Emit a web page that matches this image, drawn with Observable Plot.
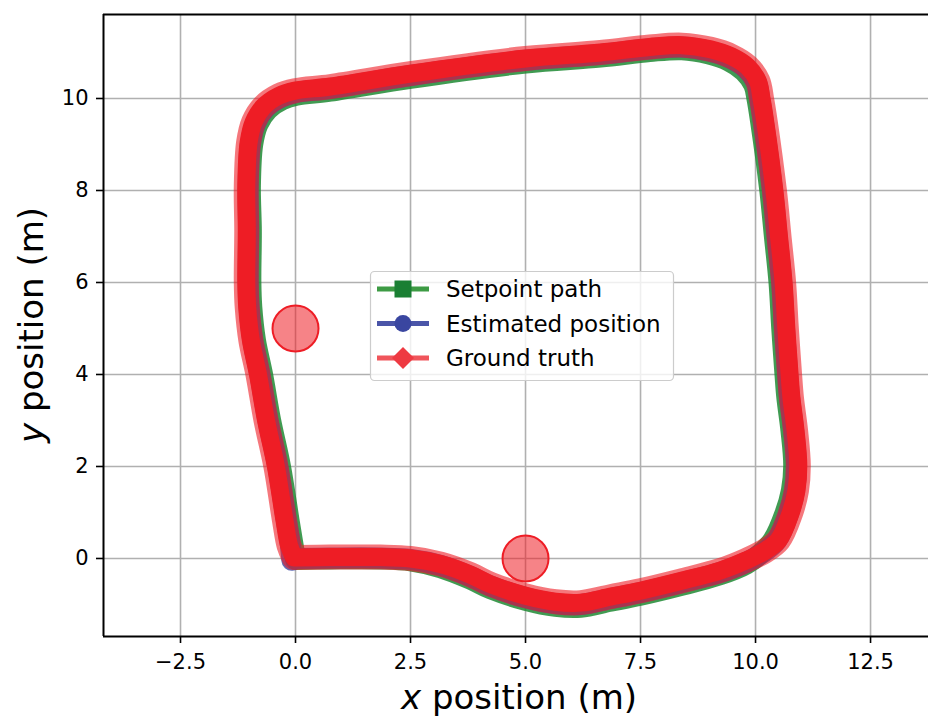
<!DOCTYPE html>
<html><head><meta charset="utf-8">
<script src="https://cdn.jsdelivr.net/npm/d3@7"></script>
<script src="https://cdn.jsdelivr.net/npm/@observablehq/plot@0.6"></script>
<style>
body{margin:0;background:#fff;}
#chart svg{display:block;}
</style>
</head><body><div id="chart"></div>
<script>
// ---- data ----
const xTicks = [-2.5, 0, 2.5, 5, 7.5, 10, 12.5];
const yTicks = [0, 2, 4, 6, 8, 10];
const xDomain = [-4.174, 13.76];
const yDomain = [-1.696, 11.826];

const seriesNames = ["Setpoint path", "Estimated position", "Ground truth"];

const setpointX = [0.00,0.75,1.85,2.50,3.15,3.80,4.24,5.00,5.65,6.20,6.85,7.50,8.37,9.24,9.80,10.10,10.38,10.64,10.78,10.83,10.77,10.68,10.64,10.57,10.51,10.41,10.31,10.11,10.03,9.96,9.75,9.41,8.97,8.40,7.70,6.63,5.00,2.50,0.76,0.02,-0.29,-0.60,-0.82,-0.93,-0.98,-0.96,-0.97,-0.95,-0.87,-0.72,-0.54,-0.33,-0.14,-0.05,0.00];
const setpointY = [-0.02,-0.01,-0.01,-0.05,-0.20,-0.45,-0.66,-0.91,-1.04,-1.06,-0.93,-0.80,-0.59,-0.35,-0.12,0.10,0.40,0.98,1.48,2.02,2.78,3.50,4.00,5.00,6.00,7.00,8.00,9.50,10.00,10.30,10.59,10.82,10.97,11.06,11.02,10.90,10.77,10.44,10.16,10.07,9.97,9.76,9.43,9.00,8.10,7.13,6.00,5.46,4.74,4.02,3.00,2.02,0.83,0.28,-0.02];

const estimatedX = [-0.02,0.75,1.85,2.50,3.15,3.80,4.24,5.00,5.65,6.20,6.85,7.50,8.37,9.24,9.80,10.15,10.46,10.72,10.85,10.89,10.83,10.74,10.70,10.63,10.57,10.47,10.37,10.17,10.09,10.02,9.80,9.45,9.00,8.40,7.70,6.63,5.00,2.50,0.76,0.00,-0.33,-0.65,-0.87,-0.98,-1.03,-1.02,-1.03,-1.01,-0.93,-0.78,-0.60,-0.39,-0.20,-0.11,-0.08];
const estimatedY = [0.00,0.01,0.01,-0.02,-0.15,-0.39,-0.60,-0.85,-0.98,-1.00,-0.87,-0.74,-0.53,-0.30,-0.08,0.12,0.39,0.98,1.48,2.02,2.78,3.50,4.00,5.00,6.00,7.00,8.00,9.50,10.00,10.35,10.65,10.88,11.03,11.12,11.08,10.96,10.83,10.50,10.22,10.13,10.02,9.80,9.46,9.02,8.10,7.13,6.00,5.46,4.74,4.02,3.00,2.02,0.83,0.28,-0.04];

const groundX = [0.00,0.75,1.85,2.50,3.15,3.80,4.24,5.00,5.65,6.20,6.85,7.50,8.37,9.24,9.80,10.18,10.50,10.76,10.89,10.93,10.87,10.78,10.74,10.67,10.61,10.51,10.41,10.21,10.13,10.05,9.83,9.47,9.02,8.40,7.70,6.63,5.00,2.50,0.76,-0.01,-0.36,-0.69,-0.91,-1.02,-1.07,-1.06,-1.07,-1.05,-0.97,-0.82,-0.64,-0.43,-0.24,-0.14,-0.03];
const groundY = [0.02,0.03,0.03,0.00,-0.12,-0.35,-0.56,-0.81,-0.94,-0.96,-0.83,-0.70,-0.49,-0.26,-0.04,0.15,0.40,0.98,1.48,2.02,2.78,3.50,4.00,5.00,6.00,7.00,8.00,9.50,10.00,10.38,10.69,10.92,11.07,11.16,11.12,11.00,10.87,10.54,10.26,10.17,10.06,9.83,9.49,9.04,8.10,7.13,6.00,5.46,4.74,4.02,3.00,2.02,0.83,0.28,0.02];

const landmarkX = [0, 5];
const landmarkY = [5, 0];
const landmarkR = [0.5, 0.5];

// ---- build rows ----
const rows = (xs, ys) => xs.map((x, i) => ({x, y: ys[i]}));
const setpoint = rows(setpointX, setpointY);
const estimated = rows(estimatedX, estimatedY);
const ground = rows(groundX, groundY);
const landmarks = landmarkX.map((x, i) => ({x, y: landmarkY[i], r: landmarkR[i]}));

const fmt = d => (d < 0 ? "\u2212" : "") + Math.abs(d).toFixed(1);
const gridStyle = {stroke: "#b0b0b0", strokeOpacity: 1, strokeWidth: 1.6};
const pathStyle = {x: "x", y: "y", strokeLinejoin: "round", strokeLinecap: "round", curve: "catmull-rom"};

const chart = Plot.plot({
  width: 928, height: 720,
  marginLeft: 103, marginRight: 0, marginTop: 14, marginBottom: 84,
  x: {domain: xDomain},
  y: {domain: yDomain},
  r: {type: "linear", domain: [0, 1], range: [0, 46]},
  style: {fontFamily: "'DejaVu Sans', sans-serif", fontSize: "21px", color: "#000", background: "#fff"},
  marks: [
    Plot.gridX(xTicks, gridStyle),
    Plot.gridY(yTicks, gridStyle),
    Plot.dot(landmarks, {x: "x", y: "y", r: "r", fill: "#ee1d25", fillOpacity: 0.55, stroke: "#ee1d25", strokeWidth: 2}),
    Plot.line(setpoint, {...pathStyle, stroke: "#1e8a34", strokeWidth: 21, strokeOpacity: 0.85}),
    Plot.line(estimated, {...pathStyle, stroke: "#3d48a0", strokeWidth: 21, strokeOpacity: 0.8}),
    Plot.line(ground, {...pathStyle, stroke: "#ee1d25", strokeWidth: 25, strokeOpacity: 0.6}),
    Plot.line(ground, {...pathStyle, stroke: "#ee1d25", strokeWidth: 18}),
    Plot.ruleX([xDomain[0]], {stroke: "#000", strokeWidth: 2}),
    Plot.ruleY([yDomain[0], yDomain[1]], {stroke: "#000", strokeWidth: 2}),
    Plot.axisX(xTicks, {tickSize: 7, tickPadding: 11, tickFormat: fmt, label: null, strokeWidth: 1.6}),
    Plot.axisY(yTicks, {tickSize: 7, tickPadding: 8, tickFormat: d => String(d), label: null, strokeWidth: 1.6})
  ]
});
document.getElementById("chart").appendChild(chart);

const svg = d3.select(chart);

// ---- axis labels (mathtext-style italic variable) ----
const xl = svg.append("text").attr("x", 519).attr("y", 709).attr("text-anchor", "middle")
  .style("font-size", "34px").style("font-family", "'DejaVu Sans', sans-serif").attr("fill", "#000");
xl.append("tspan").attr("font-style", "italic").text("x");
xl.append("tspan").text(" position (m)");
const yl = svg.append("text").attr("transform", "translate(43,325) rotate(-90)").attr("text-anchor", "middle")
  .style("font-size", "34px").style("font-family", "'DejaVu Sans', sans-serif").attr("fill", "#000");
yl.append("tspan").attr("font-style", "italic").text("y");
yl.append("tspan").text(" position (m)");

// ---- legend ----
const lg = svg.append("g").attr("text-anchor", "start");
lg.append("rect").attr("x", 370.5).attr("y", 271.5).attr("width", 303).attr("height", 109).attr("rx", 4)
  .attr("fill", "#fff").attr("fill-opacity", 0.8).attr("stroke", "#cccccc").attr("stroke-width", 1.2);
const legendColors = [["#3d9b44", "#1a7f33"], ["#4a55a8", "#3a46a0"], ["#f0555b", "#ee3a42"]];
const rowY = [289, 323.5, 358];
seriesNames.forEach((name, i) => {
  const cy = rowY[i];
  lg.append("line").attr("x1", 377).attr("x2", 429).attr("y1", cy).attr("y2", cy)
    .attr("stroke", legendColors[i][0]).attr("stroke-width", 5);
  if (i === 0) lg.append("rect").attr("x", 403 - 8.5).attr("y", cy - 8.5).attr("width", 17).attr("height", 17).attr("fill", legendColors[i][1]);
  if (i === 1) lg.append("circle").attr("cx", 403).attr("cy", cy).attr("r", 8.5).attr("fill", legendColors[i][1]);
  if (i === 2) lg.append("path").attr("d", `M403,${cy-11}L414,${cy}L403,${cy+11}L392,${cy}Z`).attr("fill", legendColors[i][1]);
  lg.append("text").attr("x", 446).attr("y", cy + 8).attr("text-anchor", "start")
    .style("font-size", "23px").style("font-family", "'DejaVu Sans', sans-serif").attr("fill", "#000").text(name);
});
</script>
</body></html>
